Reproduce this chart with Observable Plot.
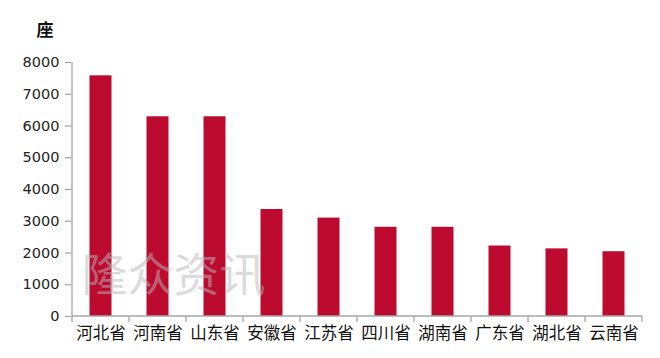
<!DOCTYPE html>
<html>
<head>
<meta charset="utf-8">
<script src="https://cdn.jsdelivr.net/npm/d3@7"></script>
<script src="https://cdn.jsdelivr.net/npm/@observablehq/plot@0.6"></script>
<style>
  html, body { margin: 0; padding: 0; background: #fff; }
  #chart svg { display: block; }
</style>
</head>
<body>
<div id="chart"></div>
<script>
const provinces = ["河北省", "河南省", "山东省", "安徽省", "江苏省", "四川省", "湖南省", "广东省", "湖北省", "云南省"];
const counts = [7580, 6290, 6290, 3370, 3100, 2810, 2810, 2220, 2130, 2040];
const yTicks = [0, 1000, 2000, 3000, 4000, 5000, 6000, 7000, 8000];
const unitLabel = "座";
const watermark = "隆众资讯";

const data = provinces.map((p, i) => ({province: p, value: counts[i]}));

const axisColor = "#a6a6a6";

// custom axis lines + boundary ticks, drawn from the library's scales
function axisLines(index, scales, values, dimensions) {
  const g = d3.create("svg:g").attr("stroke", axisColor).attr("stroke-width", 1.3).attr("fill", "none");
  const x = scales.x, y = scales.y;
  const bw = x.bandwidth();
  const y0 = y(0), yTop = y(yTicks[yTicks.length - 1]);
  const xStart = x(provinces[0]);
  const xEnd = x(provinces[provinces.length - 1]) + bw;
  g.append("line").attr("x1", xStart).attr("x2", xStart).attr("y1", yTop).attr("y2", y0);
  g.append("line").attr("x1", xStart).attr("x2", xEnd).attr("y1", y0).attr("y2", y0);
  const bounds = provinces.map(p => x(p)).concat([xEnd]);
  for (const b of bounds) {
    g.append("line").attr("x1", b).attr("x2", b).attr("y1", y0).attr("y2", y0 + 6);
  }
  return g.node();
}

const chart = Plot.plot({
  width: 660,
  height: 358,
  marginLeft: 71,
  marginRight: 18,
  marginTop: 62,
  marginBottom: 42,
  style: {background: "#fff", overflow: "visible"},
  x: {domain: provinces, padding: 0, label: null},
  y: {domain: [0, 8000], label: null},
  marks: [
    Plot.barY(data, {x: "province", y: "value", fill: "#bd0a2f", insetLeft: 17.5, insetRight: 17.5}),
    Plot.text([watermark], {
      frameAnchor: "bottom-left", dx: 10, dy: -26, fontSize: 46, textAnchor: "start",
      fill: "#b8b8b8", fillOpacity: 0.5, fontFamily: "Noto Sans CJK SC, sans-serif"
    }),
    Plot.axisY({
      ticks: yTicks, tickSize: 6, tickPadding: 6, stroke: axisColor, strokeWidth: 1.3,
      fill: "#222", fontSize: 14.5, fontFamily: "DejaVu Sans, Verdana, sans-serif", label: null, tickFormat: d => String(d)
    }),
    Plot.axisX({
      tickSize: 0, tickPadding: 11, fill: "#111", fontSize: 16.5,
      fontFamily: "Noto Sans CJK SC, sans-serif", label: null
    }),
    axisLines,
    Plot.text([unitLabel], {
      frameAnchor: "top-left", dx: -35, dy: -39, fontSize: 17, fontWeight: "bold",
      fill: "#111", fontFamily: "Noto Sans CJK SC, sans-serif"
    })
  ]
});

document.getElementById("chart").appendChild(chart);
</script>
</body>
</html>
